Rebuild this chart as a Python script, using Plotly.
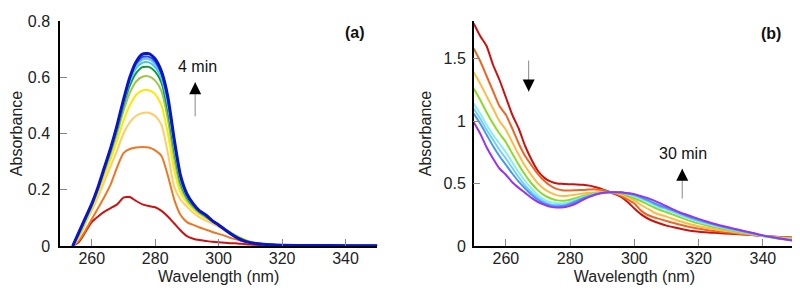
import plotly.graph_objects as go

# ---------------- Panel (a) data ----------------
wl_a = [254, 256, 258, 260, 262, 264, 266, 268, 270, 272, 274, 276, 278, 280, 282, 284, 286, 288,
        290, 292, 294, 296, 298, 300, 302, 304, 306, 308, 310, 314, 320, 330, 340, 350]

a_red = [0, 0.015, 0.05, 0.085, 0.105, 0.122, 0.135, 0.148, 0.172, 0.174, 0.16, 0.148, 0.142, 0.138,
         0.125, 0.105, 0.08, 0.055, 0.035, 0.026, 0.021, 0.018, 0.015, 0.013, 0.012, 0.010, 0.009,
         0.007, 0.005, 0.003, 0.002, 0.002, 0.001, 0.001]
a_orange = [0, 0.02, 0.055, 0.095, 0.135, 0.175, 0.22, 0.28, 0.33, 0.345, 0.35, 0.352, 0.35, 0.34,
            0.32, 0.25, 0.165, 0.11, 0.085, 0.075, 0.066, 0.058, 0.05, 0.043, 0.036, 0.028, 0.022,
            0.016, 0.012, 0.006, 0.003, 0.002, 0.001, 0.001]
a_lightorange = [0, 0.03, 0.08, 0.125, 0.175, 0.23, 0.285, 0.34, 0.4, 0.44, 0.463, 0.473, 0.474, 0.462,
                 0.43, 0.33, 0.21, 0.165, 0.14, 0.118, 0.102, 0.09, 0.08, 0.068, 0.056, 0.045, 0.033,
                 0.023, 0.015, 0.007, 0.003, 0.002, 0.001, 0.001]
a_yellow = [0, 0.035, 0.085, 0.135, 0.19, 0.25, 0.31, 0.375, 0.445, 0.5, 0.538, 0.553, 0.554, 0.54,
            0.5, 0.4, 0.27, 0.19, 0.155, 0.13, 0.112, 0.098, 0.087, 0.073, 0.06, 0.047, 0.034,
            0.024, 0.016, 0.007, 0.003, 0.002, 0.001, 0.001]
a_yellowgreen = [0, 0.04, 0.09, 0.14, 0.2, 0.265, 0.33, 0.4, 0.48, 0.545, 0.585, 0.602, 0.603, 0.588,
                 0.55, 0.45, 0.31, 0.21, 0.165, 0.138, 0.117, 0.102, 0.088, 0.074, 0.06, 0.046, 0.033,
                 0.022, 0.014, 0.007, 0.003, 0.002, 0.001, 0.001]
a_green = [0, 0.045, 0.095, 0.145, 0.205, 0.272, 0.34, 0.415, 0.5, 0.57, 0.615, 0.636, 0.637, 0.62,
           0.58, 0.48, 0.34, 0.225, 0.172, 0.143, 0.12, 0.105, 0.089, 0.074, 0.059, 0.044, 0.031,
           0.021, 0.013, 0.006, 0.003, 0.002, 0.001, 0.001]
a_cyan = [0, 0.047, 0.097, 0.147, 0.207, 0.276, 0.345, 0.422, 0.51, 0.585, 0.632, 0.652, 0.653, 0.636,
          0.595, 0.5, 0.355, 0.235, 0.177, 0.146, 0.122, 0.107, 0.09, 0.075, 0.059, 0.043, 0.03,
          0.02, 0.013, 0.006, 0.003, 0.002, 0.001, 0.001]
a_skyblue = [0, 0.048, 0.098, 0.148, 0.208, 0.278, 0.347, 0.426, 0.515, 0.592, 0.643, 0.663, 0.664, 0.647,
             0.605, 0.51, 0.365, 0.242, 0.18, 0.148, 0.124, 0.108, 0.09, 0.075, 0.058, 0.043, 0.029,
             0.019, 0.012, 0.006, 0.003, 0.002, 0.001, 0.001]
a_blue = [0, 0.049, 0.099, 0.149, 0.209, 0.279, 0.349, 0.428, 0.518, 0.596, 0.65, 0.672, 0.673, 0.656,
          0.612, 0.52, 0.372, 0.246, 0.183, 0.149, 0.125, 0.109, 0.09, 0.075, 0.058, 0.042, 0.028,
          0.018, 0.012, 0.006, 0.003, 0.002, 0.001, 0.001]
a_darkblue = [0, 0.05, 0.1, 0.15, 0.21, 0.28, 0.35, 0.43, 0.52, 0.6, 0.655, 0.682, 0.684, 0.665,
              0.62, 0.53, 0.38, 0.25, 0.185, 0.15, 0.125, 0.11, 0.09, 0.075, 0.058, 0.042, 0.028,
              0.018, 0.012, 0.006, 0.003, 0.002, 0.001, 0.001]

series_a = [a_red, a_orange, a_lightorange, a_yellow, a_yellowgreen, a_green, a_cyan, a_skyblue,
            a_blue, a_darkblue]
colors_a = ["#CC1111", "#EE7722", "#FFCC66", "#FFE800", "#9CC84A", "#119933", "#33CCEE",
            "#77B8FF", "#2255EE", "#0A14C8"]
widths_a = [2, 2, 2, 2, 2, 2, 2, 2, 2, 3]

# ---------------- Panel (b) data ----------------
wl_b = [250, 252, 254, 256, 258, 260, 262, 264, 266, 268, 270, 272, 274, 276, 278, 280, 282, 284,
        286, 288, 290, 292, 294, 296, 298, 300, 302, 304, 306, 308, 310, 314, 318, 322, 326, 330,
        335, 340, 345, 350]

b_red = [1.78, 1.68, 1.6, 1.45, 1.33, 1.19, 1.05, 0.94, 0.8, 0.69, 0.6, 0.545, 0.515, 0.5, 0.497,
         0.494, 0.493, 0.49, 0.483, 0.47, 0.455, 0.435, 0.415, 0.39, 0.35, 0.3, 0.255, 0.222, 0.198,
         0.18, 0.163, 0.14, 0.12, 0.11, 0.104, 0.098, 0.09, 0.08, 0.072, 0.066]
b_orange = [1.58, 1.48, 1.36, 1.24, 1.12, 1.05, 0.94, 0.82, 0.72, 0.645, 0.575, 0.52, 0.48, 0.455,
            0.445, 0.445, 0.447, 0.448, 0.452, 0.453, 0.448, 0.435, 0.42, 0.4, 0.37, 0.34, 0.285,
            0.25, 0.23, 0.215, 0.2, 0.172, 0.148, 0.13, 0.116, 0.105, 0.092, 0.08, 0.072, 0.066]
b_lightorange = [1.39, 1.3, 1.2, 1.1, 1.0, 0.93, 0.83, 0.73, 0.64, 0.565, 0.5, 0.455, 0.425, 0.405,
                 0.4, 0.405, 0.412, 0.42, 0.425, 0.43, 0.432, 0.43, 0.425, 0.41, 0.39, 0.365, 0.33,
                 0.3, 0.27, 0.25, 0.235, 0.2, 0.17, 0.148, 0.13, 0.115, 0.098, 0.08, 0.068, 0.06]
b_green = [1.26, 1.17, 1.07, 0.98, 0.9, 0.83, 0.74, 0.65, 0.57, 0.5, 0.445, 0.405, 0.38, 0.365,
           0.362, 0.37, 0.385, 0.4, 0.413, 0.422, 0.428, 0.43, 0.43, 0.42, 0.402, 0.382, 0.36,
           0.335, 0.31, 0.288, 0.27, 0.232, 0.195, 0.168, 0.145, 0.125, 0.103, 0.08, 0.064, 0.055]
b_cyan = [1.14, 1.06, 0.97, 0.89, 0.82, 0.75, 0.67, 0.59, 0.52, 0.46, 0.405, 0.37, 0.35, 0.343,
          0.343, 0.355, 0.372, 0.39, 0.405, 0.418, 0.426, 0.43, 0.432, 0.428, 0.413, 0.398, 0.378,
          0.355, 0.33, 0.306, 0.29, 0.25, 0.21, 0.18, 0.155, 0.132, 0.107, 0.081, 0.062, 0.05]
b_lightblue = [1.1, 1.02, 0.93, 0.85, 0.77, 0.7, 0.625, 0.55, 0.485, 0.43, 0.385, 0.352, 0.333, 0.328,
               0.33, 0.345, 0.365, 0.385, 0.4, 0.415, 0.425, 0.43, 0.433, 0.43, 0.418, 0.405, 0.386,
               0.363, 0.338, 0.315, 0.298, 0.258, 0.218, 0.187, 0.16, 0.136, 0.11, 0.082, 0.06, 0.047]
b_blue = [1.06, 0.98, 0.89, 0.8, 0.72, 0.65, 0.58, 0.515, 0.46, 0.41, 0.37, 0.34, 0.322, 0.316,
          0.32, 0.337, 0.358, 0.38, 0.398, 0.414, 0.425, 0.43, 0.433, 0.431, 0.422, 0.41, 0.392,
          0.37, 0.345, 0.322, 0.305, 0.265, 0.225, 0.193, 0.165, 0.14, 0.112, 0.083, 0.058, 0.044]
b_purple = [0.99, 0.9, 0.79, 0.7, 0.62, 0.57, 0.51, 0.465, 0.425, 0.385, 0.352, 0.33, 0.313, 0.308,
            0.31, 0.322, 0.342, 0.37, 0.393, 0.412, 0.424, 0.43, 0.43, 0.428, 0.422, 0.415, 0.4,
            0.385, 0.365, 0.342, 0.318, 0.27, 0.235, 0.2, 0.17, 0.145, 0.115, 0.085, 0.062, 0.04]

series_b = [b_red, b_orange, b_lightorange, b_green, b_cyan, b_lightblue, b_blue, b_purple]
colors_b = ["#CC1111", "#EE6622", "#FFBB44", "#88DD22", "#88EEEE", "#77CCFF", "#4499EE", "#9933EE"]

FONT = "Liberation Sans, Arial, sans-serif"

fig = go.Figure()
for ys, c, w in zip(series_a, colors_a, widths_a):
    fig.add_trace(go.Scatter(x=wl_a, y=ys, mode="lines", line=dict(color=c, width=w, shape="spline",
                                                                   smoothing=0.6),
                             xaxis="x", yaxis="y", showlegend=False, hoverinfo="skip"))
for ys, c in zip(series_b, colors_b):
    fig.add_trace(go.Scatter(x=wl_b, y=ys, mode="lines", line=dict(color=c, width=2, shape="spline",
                                                                   smoothing=0.6),
                             xaxis="x2", yaxis="y2", showlegend=False, hoverinfo="skip"))

axis_common = dict(showline=True, linecolor="black", linewidth=1.5, showgrid=False, zeroline=False,
                   ticks="inside", ticklen=7, tickwidth=1, tickcolor="#888888",
                   ticklabeloverflow="allow",
                   tickfont=dict(family=FONT, size=16, color="#222222"),
                   title_font=dict(family=FONT, size=16, color="#222222"))

# the page body has an 8px default margin, so the figure is sized/margined to compensate
fig.update_layout(
    width=792, height=286,
    margin=dict(l=48, r=5, t=7, b=48),
    paper_bgcolor="white", plot_bgcolor="white",
    xaxis=dict(domain=[0, 0.4317], range=[250, 350], tickvals=[260, 280, 300, 320, 340],
               ticklabelstandoff=-3,
               title=dict(text="Wavelength (nm)", standoff=5), anchor="y", **axis_common),
    yaxis=dict(domain=[0, 1], range=[0, 0.8], tickvals=[0, 0.2, 0.4, 0.6, 0.8],
               ticktext=["0", "0.2", "0.4", "0.6", "0.8"], ticklabelstandoff=5,
               title=dict(text="Absorbance", standoff=4), anchor="x", **axis_common),
    xaxis2=dict(domain=[0.5629, 1], range=[250, 350], tickvals=[260, 280, 300, 320, 340],
                ticklabelstandoff=-3,
                title=dict(text="Wavelength (nm)", standoff=5), anchor="y2", **axis_common),
    yaxis2=dict(domain=[0, 1], range=[0, 1.8], tickvals=[0, 0.5, 1, 1.5],
                ticktext=["0", "0.5", "1", "1.5"], ticklabelstandoff=3,
                title=dict(text="Absorbance", standoff=8), anchor="x2", **axis_common),
)

txt = dict(family=FONT, size=16, color="#111111")
annotations = [
    dict(x=343.1, y=0.758, xref="x", yref="y", text="<b>(a)</b>", showarrow=False, font=txt),
    dict(x=293.3, y=0.637, xref="x", yref="y", text="4 min", showarrow=False, font=txt),
    dict(x=342.5, y=1.70, xref="x2", yref="y2", text="<b>(b)</b>", showarrow=False, font=txt),
    dict(x=315.1, y=0.742, xref="x2", yref="y2", text="30 min", showarrow=False, font=txt),
]
# arrows: gray stems + black heads
arrows = [
    ("x", "y", 292.6, 0.461, 0.582),
    ("x2", "y2", 314.9, 0.379, 0.618),
    ("x2", "y2", 267.1, 1.484, 1.236),
]
for xr, yr, xv, y0, y1 in arrows:
    fig.add_shape(type="line", xref=xr, yref=yr, x0=xv, x1=xv, y0=y0, y1=y1,
                  line=dict(color="#888888", width=1))
    annotations.append(dict(x=xv, y=y1, xref=xr, yref=yr, ax=0, ay=(9 if y1 > y0 else -9),
                            axref="pixel", ayref="pixel", showarrow=True, arrowhead=2,
                            arrowsize=1.6, arrowwidth=1.5, arrowcolor="black", text=""))
fig.update_layout(annotations=annotations)

fig.write_html("out.html")
